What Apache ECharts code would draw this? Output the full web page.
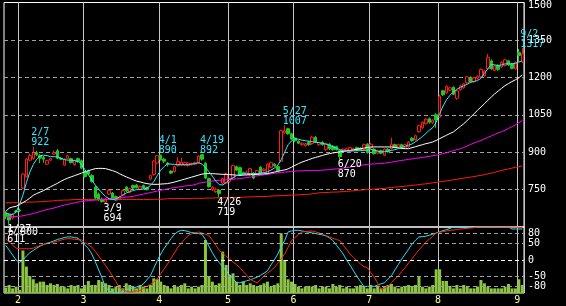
<!DOCTYPE html>
<html><head><meta charset="utf-8">
<script src="https://cdn.jsdelivr.net/npm/echarts@6/dist/echarts.min.js"></script>
<style>html,body{margin:0;padding:0;background:#000}#c{width:566px;height:306px}</style>
</head><body><div id="c"></div>
<script>
const dates = [
'1/26','1/27','1/28','1/31',
'2/1','2/2','2/3','2/4','2/7','2/8','2/9','2/10','2/14','2/15','2/16','2/17','2/18','2/21','2/22','2/23','2/24','2/25','2/28',
'3/1','3/2','3/3','3/4','3/7','3/8','3/9','3/10','3/11','3/14','3/15','3/16','3/17','3/18','3/22','3/23','3/24','3/25','3/28','3/29','3/30','3/31',
'4/1','4/4','4/5','4/6','4/7','4/8','4/11','4/12','4/13','4/14','4/15','4/18','4/19','4/20','4/21','4/22','4/25','4/26','4/27','4/28',
'5/2','5/6','5/9','5/10','5/11','5/12','5/13','5/16','5/17','5/18','5/19','5/20','5/23','5/24','5/25','5/26','5/27','5/30','5/31',
'6/1','6/2','6/3','6/6','6/7','6/8','6/9','6/10','6/13','6/14','6/15','6/16','6/17','6/20','6/21','6/22','6/23','6/24','6/27','6/28','6/29','6/30',
'7/1','7/4','7/5','7/6','7/7','7/8','7/11','7/12','7/13','7/14','7/15','7/19','7/20','7/21','7/22','7/25','7/26','7/27','7/28','7/29',
'8/1','8/2','8/3','8/4','8/5','8/8','8/9','8/10','8/11','8/12','8/15','8/16','8/17','8/18','8/19','8/22','8/23','8/24','8/25','8/26','8/29','8/30','8/31',
'9/1','9/2'];

// [open, close, low, high]
const candles = [
[658,640,632,662],[650,628,611,655],[636,650,630,656],[664,660,655,668],[668,664,660,674],
[756,812,752,816],[802,872,798,876],[868,886,864,895],[875,897,870,922],[898,890,884,905],
[887,876,856,892],[878,872,858,885],[852,866,848,870],[868,874,864,877],[892,898,890,906],
[906,876,872,912],[876,872,868,880],[848,872,845,876],[874,886,872,890],[874,858,855,878],
[850,866,846,870],[874,862,858,878],[866,836,832,870],[822,802,798,826],[824,812,808,830],
[806,782,778,812],[760,716,712,764],[732,710,704,738],[712,702,698,718],[700,712,694,716],
[732,746,728,752],[736,712,708,740],[722,708,704,726],[712,720,708,726],[728,746,724,750],
[760,744,740,764],[738,754,734,758],[766,756,752,770],[768,758,754,772],[752,762,748,766],
[766,756,752,770],[758,750,746,762],[792,806,788,810],[810,864,806,868],[856,886,852,888],
[888,870,866,890],[872,864,856,878],[856,850,842,860],[824,816,812,828],[822,842,818,846],
[846,862,842,880],[848,860,844,878],[848,858,844,862],[846,856,842,860],[850,854,846,858],
[852,858,848,862],[856,884,852,888],[890,872,866,892],[856,796,792,860],[794,762,758,798],
[750,760,744,764],[742,752,736,758],[748,734,719,752],[776,794,770,798],[776,812,772,818],
[782,792,778,796],[796,846,792,850],[842,828,824,846],[838,808,804,842],[818,812,808,822],
[810,820,806,826],[808,834,804,838],[816,796,792,820],[812,826,808,830],[840,814,810,844],
[826,832,822,836],[814,852,810,856],[840,858,836,862],[852,846,842,856],[842,826,822,846],
[864,986,860,990],[978,986,974,1007],[994,974,970,998],[974,952,948,978],[956,946,940,960],
[944,936,932,948],[930,936,926,940],[926,934,922,938],[940,930,926,944],[934,960,930,964],
[960,940,936,964],[930,938,926,942],[940,930,926,944],[910,934,906,938],[932,914,908,936],
[924,910,906,928],[922,910,906,926],[906,882,870,910],[904,912,900,916],[906,914,902,918],
[904,918,900,922],[908,914,904,918],[918,908,904,922],[916,910,906,920],[910,930,906,934],
[932,898,894,936],[918,932,912,936],[912,894,890,916],[896,906,892,910],[906,896,892,910],
[888,912,884,916],[912,902,898,916],[914,932,910,958],[930,920,916,934],[920,930,916,934],
[930,918,914,934],[918,930,914,934],[922,940,918,944],[956,946,942,960],[950,966,946,970],
[982,1006,978,1010],[998,1020,994,1024],[1014,1032,1010,1036],[1034,1020,1014,1038],[1018,1028,1012,1032],
[1050,1030,998,1056],[1040,1124,1036,1130],[1146,1130,1126,1150],[1138,1164,1134,1168],[1148,1158,1144,1162],
[1160,1132,1128,1164],[1116,1146,1110,1150],[1150,1166,1146,1170],[1158,1174,1154,1178],[1178,1202,1174,1206],
[1200,1182,1178,1204],[1182,1198,1178,1202],[1196,1204,1190,1208],[1202,1232,1198,1236],[1206,1226,1202,1230],
[1234,1280,1230,1294],[1266,1234,1230,1272],[1228,1246,1224,1250],[1248,1232,1226,1252],[1242,1260,1238,1264],
[1248,1270,1244,1274],[1266,1250,1246,1270],[1254,1236,1232,1258],[1234,1260,1230,1264],[1300,1288,1262,1314],
[1262,1294,1258,1317]];

const maShort = [
655,652,650,660,690,728,778,820,850,872,
885,888,886,882,882,881,876,870,868,868,
866,864,850,830,810,788,768,752,736,722,
714,710,712,720,728,736,742,746,750,750,
752,756,766,782,806,828,842,854,852,851,
850,850,850,850,852,854,858,852,838,822,
804,784,770,768,778,790,798,806,810,812,
814,814,814,814,816,818,821,828,836,848,
870,900,930,945,954,952,948,946,944,942,
940,938,935,932,928,922,916,910,906,905,
905,905,906,906,907,908,912,908,904,901,
902,904,907,910,914,919,924,928,933,942,
952,962,975,988,998,1020,1054,1085,1110,1128,
1142,1152,1160,1166,1172,1180,1184,1187,1196,1216,
1234,1252,1250,1247,1250,1254,1254,1254,1256,1261,
1267];

const maMid = [
662,676,680,683,690,698,706,716,727,734,
740,746,754,761,768,775,783,790,796,801,
806,811,816,821,826,830,834,835,835,834,
830,826,821,814,807,801,795,789,784,781,
777,774,772,771,771,772,773,774,777,780,
784,788,792,796,800,804,808,812,814,814,
814,813,812,811,811,810,809,808,807,808,
809,810,810,811,812,813,814,817,820,823,
826,829,833,840,847,854,860,865,870,875,
879,883,887,891,894,897,899,901,903,905,
907,909,912,914,916,919,921,921,921,921,
921,921,921,919,917,915,914,914,918,922,
926,930,934,937,941,947,954,961,968,975,
981,992,1003,1014,1027,1040,1054,1068,1081,1094,
1108,1121,1134,1145,1156,1167,1175,1183,1190,1198,
1210];

const maLong = [
641,641,642,642,643,645,648,651,654,658,
662,666,670,673,676,680,684,688,691,694,
697,700,702,704,706,707,708,709,710,711,
712,714,715,717,718,720,721,723,726,729,
732,735,738,741,744,747,750,753,756,758,
760,762,764,766,767,770,775,778,780,782,
784,786,787,788,789,790,791,793,794,796,
798,800,803,805,807,809,811,813,815,817,
818,820,821,822,824,825,825,826,826,826,
827,827,828,829,830,832,833,834,836,838,
840,842,844,847,849,851,852,853,854,854,
856,858,860,862,865,867,869,871,873,875,
877,879,881,883,886,888,891,894,898,902,
906,910,914,919,925,931,937,942,947,953,
959,965,971,977,982,988,995,1002,1010,1018,
1027];

const maVeryLong = [
697,697,697,697,697,698,699,700,700,701,
701,702,703,704,705,707,707,708,708,709,
710,710,710,710,710,710,710,710,710,710,
710,710,710,710,710,710,710,710,710,710,
710,710,710,711,711,711,712,713,714,714,
714,714,714,714,715,715,715,715,716,716,
716,717,717,717,718,718,718,719,719,720,
720,721,721,722,722,722,723,724,725,725,
726,726,727,728,728,729,730,730,731,733,
735,737,738,738,739,740,740,741,742,743,
744,745,747,748,749,750,751,752,753,754,
755,757,758,760,761,762,764,765,767,768,
770,772,773,775,777,779,781,783,785,787,
789,791,794,796,798,800,802,805,807,810,
813,816,819,823,827,830,833,836,839,842,
845];

const volume = [
500,730,420,580,270,3860,2400,1550,1250,880,
1030,1030,730,880,730,820,580,580,420,730,
640,730,420,730,1090,730,730,1180,1030,880,
730,420,580,730,420,880,730,580,420,730,
580,420,730,1330,1250,1030,730,580,420,730,
580,730,880,420,580,420,580,730,4820,1490,
1030,730,880,3760,2550,1640,1790,1030,730,1030,
730,880,730,580,730,880,1030,580,730,880,
5430,3000,1250,1030,820,580,420,580,640,580,
730,420,580,580,420,820,580,730,420,580,
420,420,580,730,580,420,730,420,580,420,
580,730,820,580,420,580,580,730,580,730,
1490,580,420,580,730,2150,2150,1090,1090,640,
420,730,420,730,580,420,420,580,1180,880,
580,420,420,420,420,580,820,420,420,1250,
730];

const oscFast = [
44,30,15,0,-7,0,12,22,29,36,
42,47,51,54,58,62,65,68,70,70,
68,66,55,45,35,18,-5,-30,-55,-84,
-92,-100,-100,-100,-96,-90,-87,-84,-82,-80,
-72,-60,-48,-25,-2,18,35,50,65,78,
86,90,89,86,83,82,80,78,62,42,
22,5,-8,-20,-33,-45,-57,-69,-69,-66,
-63,-60,-56,-52,-46,-40,-33,-15,0,18,
40,59,85,88,90,90,88,86,84,82,
80,78,76,73,67,59,45,32,18,0,
-16,-33,-50,-65,-80,-80,-80,-80,-76,-72,
-69,-58,-48,-30,-14,3,18,33,49,60,
70,71,72,75,78,82,85,89,92,96,
100,100,100,100,100,100,100,100,100,100,
100,100,100,100,100,100,100,94,94,94,
94];

const oscSlow = [
65,55,45,36,34,34,34,34,36,40,
44,47,50,52,54,57,60,63,65,64,
63,62,61,53,46,39,26,12,-2,-17,
-32,-48,-66,-84,-90,-95,-97,-96,-94,-93,
-86,-80,-74,-66,-58,-42,-27,-12,5,22,
39,51,63,75,79,82,85,82,78,75,
60,45,29,20,11,3,-6,-14,-23,-35,
-47,-58,-64,-69,-60,-48,-40,-32,-23,-10,
4,18,38,59,68,77,85,86,87,88,
85,82,78,74,70,66,62,59,45,32,
18,8,-2,-12,-20,-23,-38,-52,-70,-89,
-85,-80,-69,-58,-48,-35,-23,-9,4,18,
30,42,54,63,72,82,84,86,88,90,
91,92,94,95,96,97,98,100,100,100,
100,100,100,100,100,100,100,100,100,99,
98];

const oscTicks = [80, 50, 0, -50, -80];
const oscGuides = [80, 50, -50, -80];
const highLabels = [['2/7', 922], ['4/1', 890], ['4/19', 892], ['5/27', 1007], ['9/2', 1317]];
const lowLabels = [['1/27', 611], ['3/9', 694], ['4/26', 719], ['6/20', 870]];

const mono = 'DejaVu Sans Mono';
const isMonthStart = (i) => i > 0 && dates[i].split('/')[0] !== dates[i - 1].split('/')[0];

function pointLabel(d, v, isHigh) {
  return {
    coord: [d, v],
    label: {
      formatter: d + '\n' + v,
      color: isHigh ? '#33e8ff' : '#ffffff',
      align: 'left',
      verticalAlign: isHigh ? 'bottom' : 'top',
      offset: [-2, isHigh ? 1 : 0]
    }
  };
}

const xBase = {
  type: 'category', data: dates, boundaryGap: true,
  axisLine: { show: false }, axisTick: { show: false },
  splitLine: { show: true, interval: (i) => isMonthStart(i), lineStyle: { color: '#c4c4c4', width: 1 } }
};

const chart = echarts.init(document.getElementById('c'), null, { renderer: 'canvas' });
chart.setOption({
  backgroundColor: '#000',
  animation: false,
  grid: [
    { left: 4, top: 2, width: 520, height: 225, show: true, borderColor: '#ffffff', borderWidth: 1, backgroundColor: 'transparent' },
    { left: 4, top: 227, width: 520, height: 66, show: true, borderColor: '#ffffff', borderWidth: 1, backgroundColor: 'transparent' }
  ],
  xAxis: [
    Object.assign({}, xBase, { gridIndex: 0, axisLabel: { show: false } }),
    Object.assign({}, xBase, { gridIndex: 1, axisLabel: {
      show: true, interval: (i) => isMonthStart(i), formatter: (v) => v.split('/')[0],
      color: '#ffff99', fontFamily: mono, fontSize: 10, margin: 2, padding: [0, 3, 0, 0] } })
  ],
  yAxis: [
    { gridIndex: 0, type: 'value', position: 'right', min: 600, max: 1500, interval: 150,
      axisLine: { show: false }, axisTick: { show: false },
      axisLabel: { color: '#ffffff', fontFamily: mono, fontSize: 10, margin: 4, showMinLabel: false,
        formatter: (v) => v === 1500 ? '{t|1500}' : String(v),
        rich: { t: { padding: [5, 0, 0, 0], color: '#ffffff', fontFamily: mono, fontSize: 10 } } },
      splitLine: { show: true, showMinLine: false, showMaxLine: false, lineStyle: { color: '#a0a0a0', type: [4, 3], width: 1 } } },
    { gridIndex: 1, type: 'value', position: 'left', min: 0, max: 6000, interval: 6000,
      axisLine: { show: false }, axisTick: { show: false }, splitLine: { show: false },
      axisLabel: { inside: true, showMinLabel: false, color: '#ffffff', fontFamily: mono, fontSize: 10, margin: 4, verticalAlign: 'top' } },
    { gridIndex: 1, type: 'value', position: 'right', min: -100, max: 100,
      axisLine: { show: false }, axisTick: { show: false }, splitLine: { show: false },
      axisLabel: { customValues: oscTicks, color: '#ffffff', fontFamily: mono, fontSize: 10, margin: 4 } }
  ],
  series: [
    { type: 'bar', xAxisIndex: 1, yAxisIndex: 1, data: volume, barWidth: 3, silent: true,
      itemStyle: { color: '#8cc63f' } },
    { type: 'line', xAxisIndex: 1, yAxisIndex: 2, data: oscFast, showSymbol: false, silent: true,
      lineStyle: { color: '#22e0ff', width: 1 },
      markLine: { silent: true, symbol: ['none', 'none'], label: { show: false },
        lineStyle: { color: '#a0a0a0', type: [4, 3], width: 1 },
        data: oscGuides.map(v => ({ yAxis: v })).concat([{ yAxis: 0, lineStyle: { color: '#ffffff', type: [4, 3], width: 1 } }]) } },
    { type: 'line', xAxisIndex: 1, yAxisIndex: 2, data: oscSlow, showSymbol: false, silent: true,
      lineStyle: { color: '#ff2a00', width: 1 } },
    { type: 'line', xAxisIndex: 0, yAxisIndex: 0, data: maVeryLong, showSymbol: false, silent: true, lineStyle: { color: '#ff2000', width: 1 } },
    { type: 'line', xAxisIndex: 0, yAxisIndex: 0, data: maLong, showSymbol: false, silent: true, lineStyle: { color: '#ff00ff', width: 1 } },
    { type: 'line', xAxisIndex: 0, yAxisIndex: 0, data: maMid, showSymbol: false, silent: true, lineStyle: { color: '#ffffff', width: 1 } },
    { type: 'candlestick', xAxisIndex: 0, yAxisIndex: 0, data: candles, barWidth: 3, silent: true,
      itemStyle: { color: '#000000', color0: '#1ecc1e', borderColor: '#ff1a1a', borderColor0: '#1ecc1e', borderWidth: 1 },
      markPoint: { silent: true, symbol: 'circle', symbolSize: 1, itemStyle: { color: 'rgba(0,0,0,0)' },
        label: { show: true, position: 'inside', fontFamily: mono, fontSize: 10, lineHeight: 10 },
        data: highLabels.map(p => pointLabel(p[0], p[1], true)).concat(lowLabels.map(p => pointLabel(p[0], p[1], false))) } },
    { type: 'line', xAxisIndex: 0, yAxisIndex: 0, data: maShort, showSymbol: false, silent: true, lineStyle: { color: '#33e8ff', width: 1 } }
  ]
});
</script>
</body></html>
